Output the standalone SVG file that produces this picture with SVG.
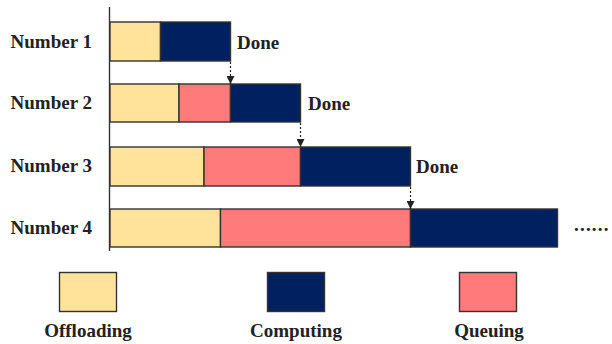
<svg xmlns="http://www.w3.org/2000/svg" width="612" height="344" viewBox="0 0 612 344">
<style>
text{font-family:"Liberation Serif","Times New Roman",serif;font-weight:bold;font-size:19px;fill:#222}
.o{fill:#FFE39B;stroke:#333;stroke-width:1.4}
.c{fill:#00205F;stroke:#333;stroke-width:1.4}
.q{fill:#FF7A7A;stroke:#333;stroke-width:1.4}
.lbl{text-anchor:end}
.arr{stroke:#222;stroke-width:1.2;stroke-dasharray:2 2;fill:none}
</style>
<defs>
<marker id="ah" viewBox="0 0 10 10" refX="10" refY="5" markerWidth="8" markerHeight="8" markerUnits="userSpaceOnUse" orient="auto">
<path d="M0,0 L10,5 L0,10 z" fill="#222"/>
</marker>
</defs>
<line x1="109.5" y1="7" x2="109.5" y2="251" stroke="#333" stroke-width="1.4"/>
<g id="row1">
<text class="lbl" x="92" y="48">Number 1</text>
<rect class="o" x="110" y="22" width="50.5" height="39"/>
<rect class="c" x="160.5" y="22" width="70" height="39"/>
<text x="237" y="49">Done</text>
</g>
<g id="row2">
<text class="lbl" x="92" y="109">Number 2</text>
<rect class="o" x="110" y="84" width="69" height="38"/>
<rect class="q" x="179" y="84" width="51.5" height="38"/>
<rect class="c" x="230.5" y="84" width="70" height="38"/>
<text x="308" y="110">Done</text>
</g>
<g id="row3">
<text class="lbl" x="92" y="172">Number 3</text>
<rect class="o" x="110" y="147" width="94" height="39"/>
<rect class="q" x="204" y="147" width="96.5" height="39"/>
<rect class="c" x="300.5" y="147" width="110" height="39"/>
<text x="416" y="173">Done</text>
</g>
<g id="row4">
<text class="lbl" x="92" y="234">Number 4</text>
<rect class="o" x="110" y="209" width="110.5" height="38"/>
<rect class="q" x="220.5" y="209" width="190" height="38"/>
<rect class="c" x="410.5" y="209" width="147" height="38"/>
<text x="574" y="231" letter-spacing="1.2">......</text>
</g>
<g id="connectors">
<line class="arr" x1="230.5" y1="62" x2="230.5" y2="84" marker-end="url(#ah)"/>
<line class="arr" x1="300.5" y1="123" x2="300.5" y2="147" marker-end="url(#ah)"/>
<line class="arr" x1="410.5" y1="187" x2="410.5" y2="209" marker-end="url(#ah)"/>
</g>
<g id="legend-offloading">
<rect class="o" x="59.5" y="272.5" width="57" height="39"/>
<text x="88" y="337" text-anchor="middle">Offloading</text>
</g>
<g id="legend-computing">
<rect class="c" x="267.5" y="272.5" width="57" height="39"/>
<text x="296" y="337" text-anchor="middle">Computing</text>
</g>
<g id="legend-queuing">
<rect class="q" x="459.5" y="272.5" width="57" height="39"/>
<text x="489" y="337" text-anchor="middle">Queuing</text>
</g>
</svg>
